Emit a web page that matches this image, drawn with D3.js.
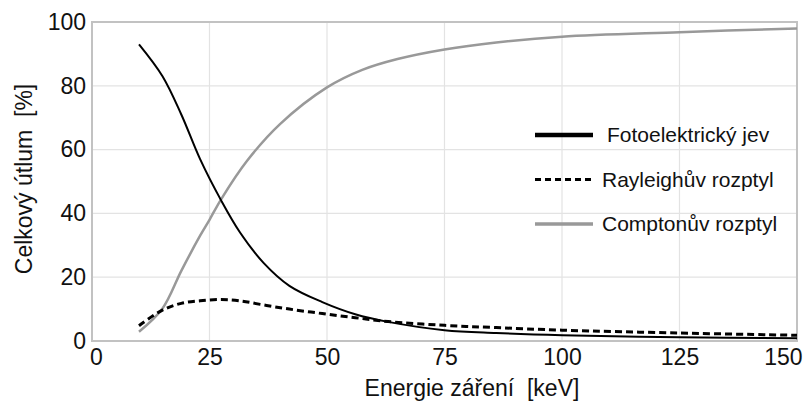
<!DOCTYPE html>
<html>
<head>
<meta charset="utf-8">
<script src="https://cdn.jsdelivr.net/npm/d3@7"></script>
<style>
  body { margin: 0; background: #fff; }
  text { font-family: 'Liberation Sans', Arial, sans-serif; fill: #111; white-space: pre; }
</style>
</head>
<body>
<div id="graf"></div>
<script>
// Datos
energia  = [10, 15, 19, 23, 27.5, 31.5, 36.5, 42, 49, 56, 63, 75, 86, 100, 125, 150]
foto     = [93, 83, 71, 57, 44, 34, 24.5, 17.3, 12.2, 8.4, 6.0, 3.4, 2.5, 1.8, 1.2, 0.9]
rayleigh = [4.8, 9.7, 11.8, 12.6, 13.0, 12.6, 11.3, 10.0, 8.6, 7.3, 6.1, 4.9, 4.2, 3.4, 2.5, 1.8]

energiaCompton = [10, 15, 19, 23, 25, 27.5, 33, 40, 50, 57.5, 65, 75, 86, 100, 125, 150]
compton        = [2.9, 10.2, 22, 33, 38, 44.5, 56.5, 68, 79.5, 85, 88.4, 91.4, 93.6, 95.4, 96.8, 98]

xTicks = [0, 25, 50, 75, 100, 125, 150]
yTicks = [0, 20, 40, 60, 80, 100]

series = [
  { nombre: 'Fotoelektrický jev', energia: energia, valores: foto },
  { nombre: 'Rayleighův rozptyl', energia: energia, valores: rayleigh },
  { nombre: 'Comptonův rozptyl', energia: energiaCompton, valores: compton }
]
estilos = [
  { color: '#000', ancho: 2, dash: null, leyAncho: 4.5, leyDash: null },
  { color: '#000', ancho: 3, dash: '7,4', leyAncho: 3, leyDash: '6,4' },
  { color: '#999', ancho: 2.5, dash: null, leyAncho: 3.5, leyDash: null }
]

// Configuración
ancho_total = 807
alto_total = 403
margins = { top: 22, left: 92, right: 10, bottom: 62 }
ancho = ancho_total - margins.left - margins.right
alto = alto_total - margins.top - margins.bottom

svg = d3.select('#graf').append('svg')
        .attr('width', ancho_total)
        .attr('height', alto_total)

g = svg.append('g')
       .attr('transform', `translate(${margins.left}, ${margins.top})`)

x = d3.scaleLinear().domain([0, 150]).range([0, ancho])
y = d3.scaleLinear().domain([0, 100]).range([alto, 0])

// Rejilla
g.selectAll('.vgrid').data(xTicks.slice(1, -1)).enter()
  .append('line')
    .attr('x1', d => x(d)).attr('x2', d => x(d))
    .attr('y1', 0).attr('y2', alto)
    .attr('stroke', '#e3e3e3').attr('stroke-width', 1.2)
g.selectAll('.hgrid').data(yTicks.slice(1, -1)).enter()
  .append('line')
    .attr('x1', 0).attr('x2', ancho)
    .attr('y1', d => y(d)).attr('y2', d => y(d))
    .attr('stroke', '#e3e3e3').attr('stroke-width', 1.2)

// Marco
g.append('rect')
  .attr('width', ancho).attr('height', alto)
  .attr('fill', 'none').attr('stroke', '#c2c2c2').attr('stroke-width', 2)

// Ejes
xAxis = g.append('g')
  .attr('transform', `translate(0, ${alto})`)
  .call(d3.axisBottom(x).tickValues(xTicks).tickSize(0).tickPadding(8))
yAxis = g.append('g')
  .call(d3.axisLeft(y).tickValues(yTicks).tickSize(0).tickPadding(6))
;[xAxis, yAxis].forEach(a => {
  a.select('.domain').remove()
  a.selectAll('text')
   .style('font-family', "'Liberation Sans', Arial, sans-serif")
   .style('font-size', '23px')
   .attr('fill', '#111')
})
// la etiqueta 150 queda dentro del lienzo
xAxis.selectAll('.tick text')
  .filter(d => d === 150)
  .attr('text-anchor', 'end')
  .attr('dx', '5px')
xAxis.selectAll('.tick text')
  .filter(d => d === 0)
  .attr('dx', '4px')

// Títulos
svg.append('text')
  .attr('x', 472).attr('y', 396)
  .attr('text-anchor', 'middle')
  .style('font-size', '23px')
  .text('Energie záření  [keV]')
svg.append('text')
  .attr('transform', 'translate(32, 179) rotate(-90)')
  .attr('text-anchor', 'middle')
  .style('font-size', '23px')
  .text('Celkový útlum  [%]')

// Líneas
linea = s => d3.line()
  .x((d, i) => x(s.energia[i]))
  .y(d => y(d))
  .curve(d3.curveCatmullRom.alpha(0.5))(s.valores)

// dibujar gris primero, luego negras
orden = [2, 0, 1]
orden.forEach(i => {
  g.append('path')
    .attr('d', linea(series[i]))
    .attr('fill', 'none')
    .attr('stroke', estilos[i].color)
    .attr('stroke-width', estilos[i].ancho)
    .attr('stroke-dasharray', estilos[i].dash)
})

// Leyenda
ley = svg.append('g').attr('transform', 'translate(535, 135)')
series.forEach((s, i) => {
  e = estilos[i]
  ley.append('line')
    .attr('x1', 0).attr('x2', 58)
    .attr('y1', i * 44.5).attr('y2', i * 44.5)
    .attr('stroke', e.color)
    .attr('stroke-width', e.leyAncho)
    .attr('stroke-dasharray', e.leyDash)
  ley.append('text')
    .attr('x', 72 - (i > 0 ? 5 : 0)).attr('y', i * 44.5 + 7)
    .style('font-size', '21px')
    .text(s.nombre)
})
</script>
</body>
</html>
